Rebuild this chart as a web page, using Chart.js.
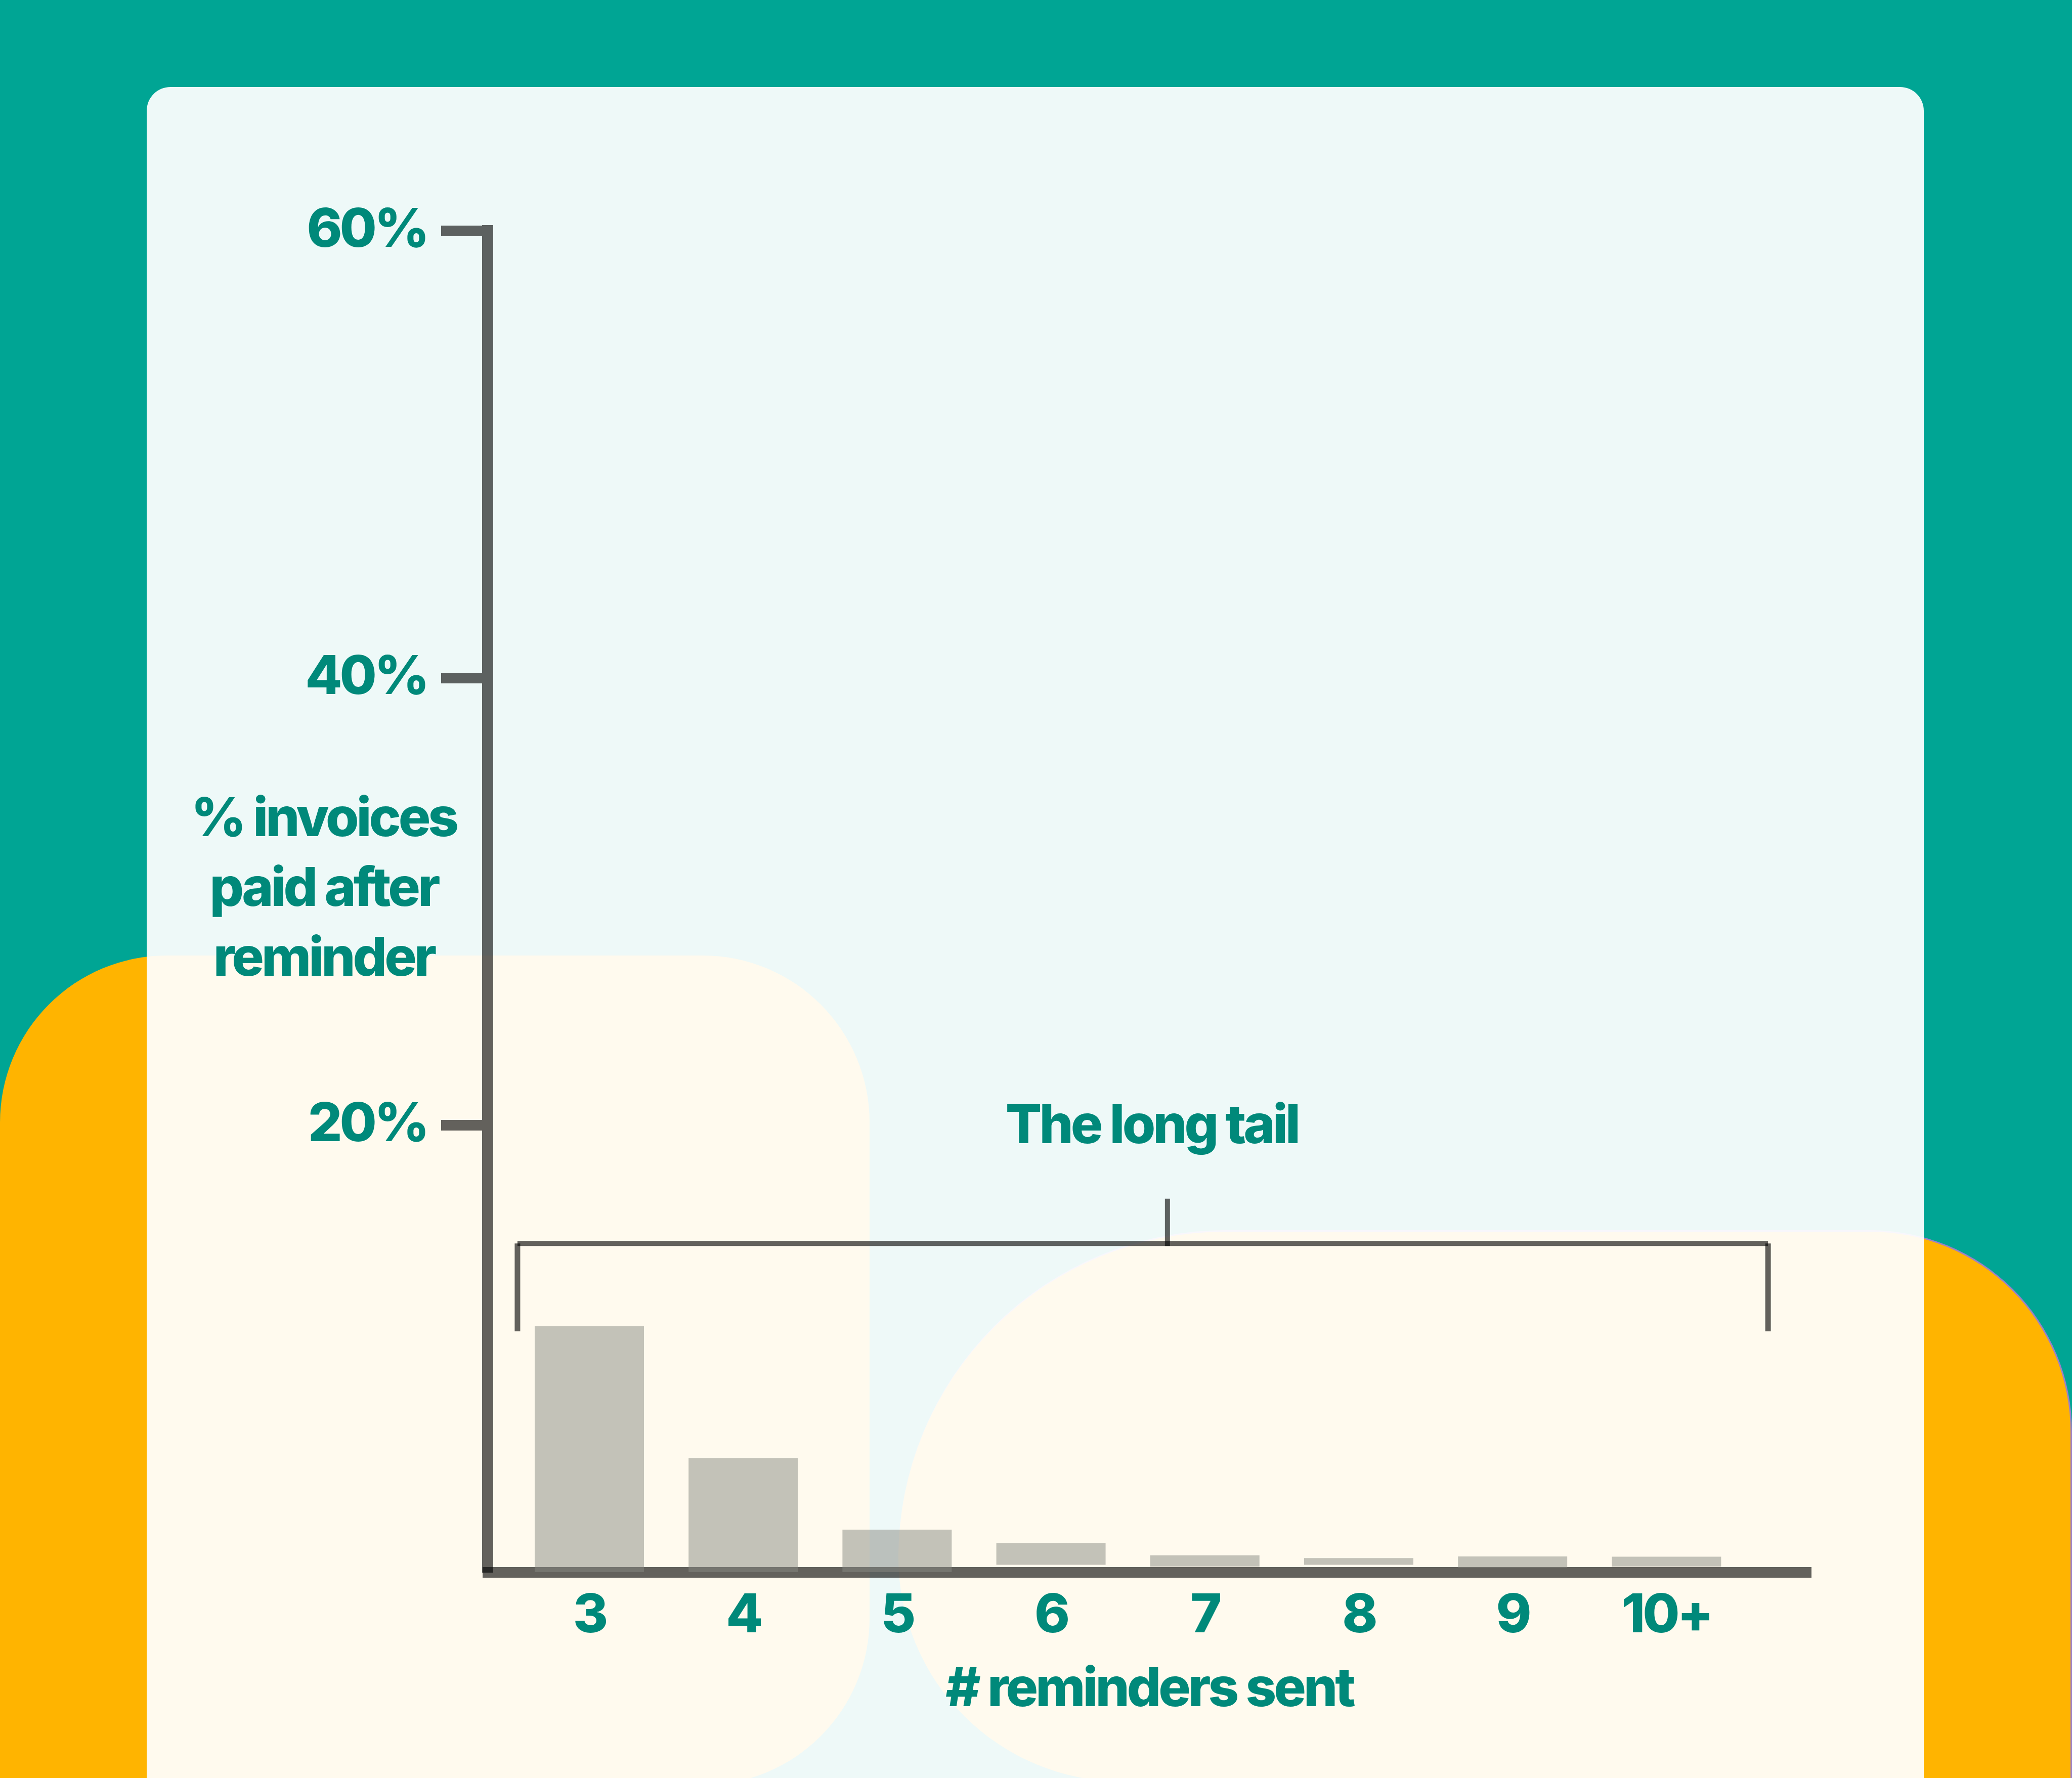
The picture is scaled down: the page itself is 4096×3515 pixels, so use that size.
<!DOCTYPE html>
<html><head><meta charset="utf-8">
<script src="https://cdn.jsdelivr.net/npm/chart.js@4.4.1/dist/chart.umd.min.js"></script>
<style>
html,body{margin:0;padding:0;width:4096px;height:3515px;overflow:hidden;background:#00A594;}
#bg{position:absolute;left:0;top:0;width:4096px;height:3515px;overflow:hidden;}
.blob{position:absolute;background:#FFB400;}
#blobL{left:0;top:1889px;width:1719px;height:1640px;border-radius:330px 330px 330px 0;}
#blobR{left:1776px;top:2432px;width:2320px;height:1090px;border-radius:650px 400px 0 445px;box-sizing:border-box;border-top:3px solid #9C80C8;border-right:3px solid #9C80C8;}
#card{position:absolute;left:290px;top:172px;width:3513px;height:3450px;border-radius:47px;background:rgba(255,255,255,0.935);}
#wrap{position:absolute;left:0;top:0;width:4096px;height:3515px;}
canvas{display:block;}
</style></head>
<body>
<div id="bg"><div class="blob" id="blobL"></div><div class="blob" id="blobR"></div><div id="card"></div></div>
<div id="wrap"><canvas id="c" width="4096" height="3515"></canvas></div>
<script>
// ---- data ----
const categories = ['3', '4', '5', '6', '7', '8', '9', '10+'];
const paidShare = [11.0, 5.1, 1.9, 1.3, 0.75, 0.63, 0.7, 0.69];
const barBase = [0, 0, 0, 0.33, 0.25, 0.33, 0.2, 0.25];
const yTicks = [20, 40, 60];
const yTitleLines = ['% invoices', 'paid after', 'reminder'];
const xTitle = '# reminders sent';
const annotationText = 'The long tail';

// ---- styles ----
const LINE = 'rgba(0,0,0,0.61)';
const TEAL = '#00897A';
const FAMILY = 'Inter';
const FSIZE = 106;
const WEIGHT = 800;
const SPACING = '-5px';
Chart.defaults.font.family = FAMILY;

const spacingPlugin = {
  id: 'spacing',
  beforeDraw(chart) { chart.ctx.letterSpacing = SPACING; }
};

const extrasPlugin = {
  id: 'extras',
  afterDraw(chart) {
    const {ctx, chartArea} = chart;
    const xs = chart.scales.x, ys = chart.scales.y;
    ctx.save();
    ctx.letterSpacing = SPACING;
    // y axis title, horizontal, centred lines
    ctx.fillStyle = TEAL;
    ctx.font = `${WEIGHT} ${FSIZE}px ${FAMILY}`;
    ctx.textAlign = 'center';
    ctx.textBaseline = 'alphabetic';
    const tx = chartArea.left - 324;
    const baseY = chartArea.top + 1197;
    yTitleLines.forEach((t, i) => ctx.fillText(t, tx, baseY + i * 138));

    // bracket annotation
    const left = xs.getPixelForValue(-0.467);
    const right = xs.getPixelForValue(7.66);
    const mid = xs.getPixelForValue(3.757);
    const yBar = ys.getPixelForValue(14.7);
    const yEnd = ys.getPixelForValue(10.77);
    const yStem = ys.getPixelForValue(16.7);
    ctx.strokeStyle = LINE;
    ctx.lineCap = 'butt';
    ctx.lineWidth = 10;
    ctx.beginPath(); ctx.moveTo(left, yBar); ctx.lineTo(right, yBar); ctx.stroke();
    ctx.beginPath(); ctx.moveTo(mid, yStem); ctx.lineTo(mid, yBar + 5); ctx.stroke();
    ctx.lineWidth = 11;
    ctx.beginPath(); ctx.moveTo(left, yBar); ctx.lineTo(left, yEnd); ctx.stroke();
    ctx.beginPath(); ctx.moveTo(right, yBar); ctx.lineTo(right, yEnd); ctx.stroke();

    ctx.fillStyle = TEAL;
    ctx.textAlign = 'center';
    ctx.fillText(annotationText, xs.getPixelForValue(3.655), ys.getPixelForValue(19.19));
    ctx.restore();
  }
};

new Chart(document.getElementById('c'), {
  type: 'bar',
  data: {
    datasets: [{
      data: categories.map((c, i) => ({x: i, y: [barBase[i], paidShare[i]]})),
      backgroundColor: 'rgba(136,137,129,0.5)',
      borderWidth: 0,
      borderSkipped: false,
      categoryPercentage: 1,
      barPercentage: 0.71
    }]
  },
  options: {
    responsive: false,
    animation: false,
    devicePixelRatio: 1,
    layout: {padding: {top: 456, right: 516, bottom: 0, left: 0}},
    plugins: {legend: {display: false}, tooltip: {enabled: false}},
    scales: {
      x: {
        type: 'linear', min: -0.6607, max: 7.939, offset: false, z: 1,
        afterBuildTicks: s => { s.ticks = categories.map((c, i) => ({value: i})); },
        afterFit: s => { s.height = 407; },
        grid: {display: false, offset: false},
        border: {display: true, color: LINE, width: 21},
        ticks: {
          color: TEAL, font: {size: FSIZE, weight: WEIGHT}, padding: 16,
          autoSkip: false, maxRotation: 0,
          callback: v => categories[v] ?? ''
        },
        title: {display: true, text: xTitle, color: TEAL, font: {size: FSIZE, weight: WEIGHT}, padding: {top: 0, bottom: 110}}
      },
      y: {
        min: 0, max: 60, z: 1,
        afterBuildTicks: s => { s.ticks = yTicks.map(v => ({value: v})); },
        afterFit: s => { s.width = 964; },
        grid: {display: true, drawOnChartArea: false, drawTicks: true, tickLength: 92, tickWidth: 21, tickColor: LINE},
        border: {display: true, color: LINE, width: 22},
        ticks: {color: TEAL, font: {size: FSIZE, weight: WEIGHT}, padding: 28, autoSkip: false, callback: v => v + '%'}
      }
    }
  },
  plugins: [spacingPlugin, extrasPlugin]
});
</script>
</body></html>
